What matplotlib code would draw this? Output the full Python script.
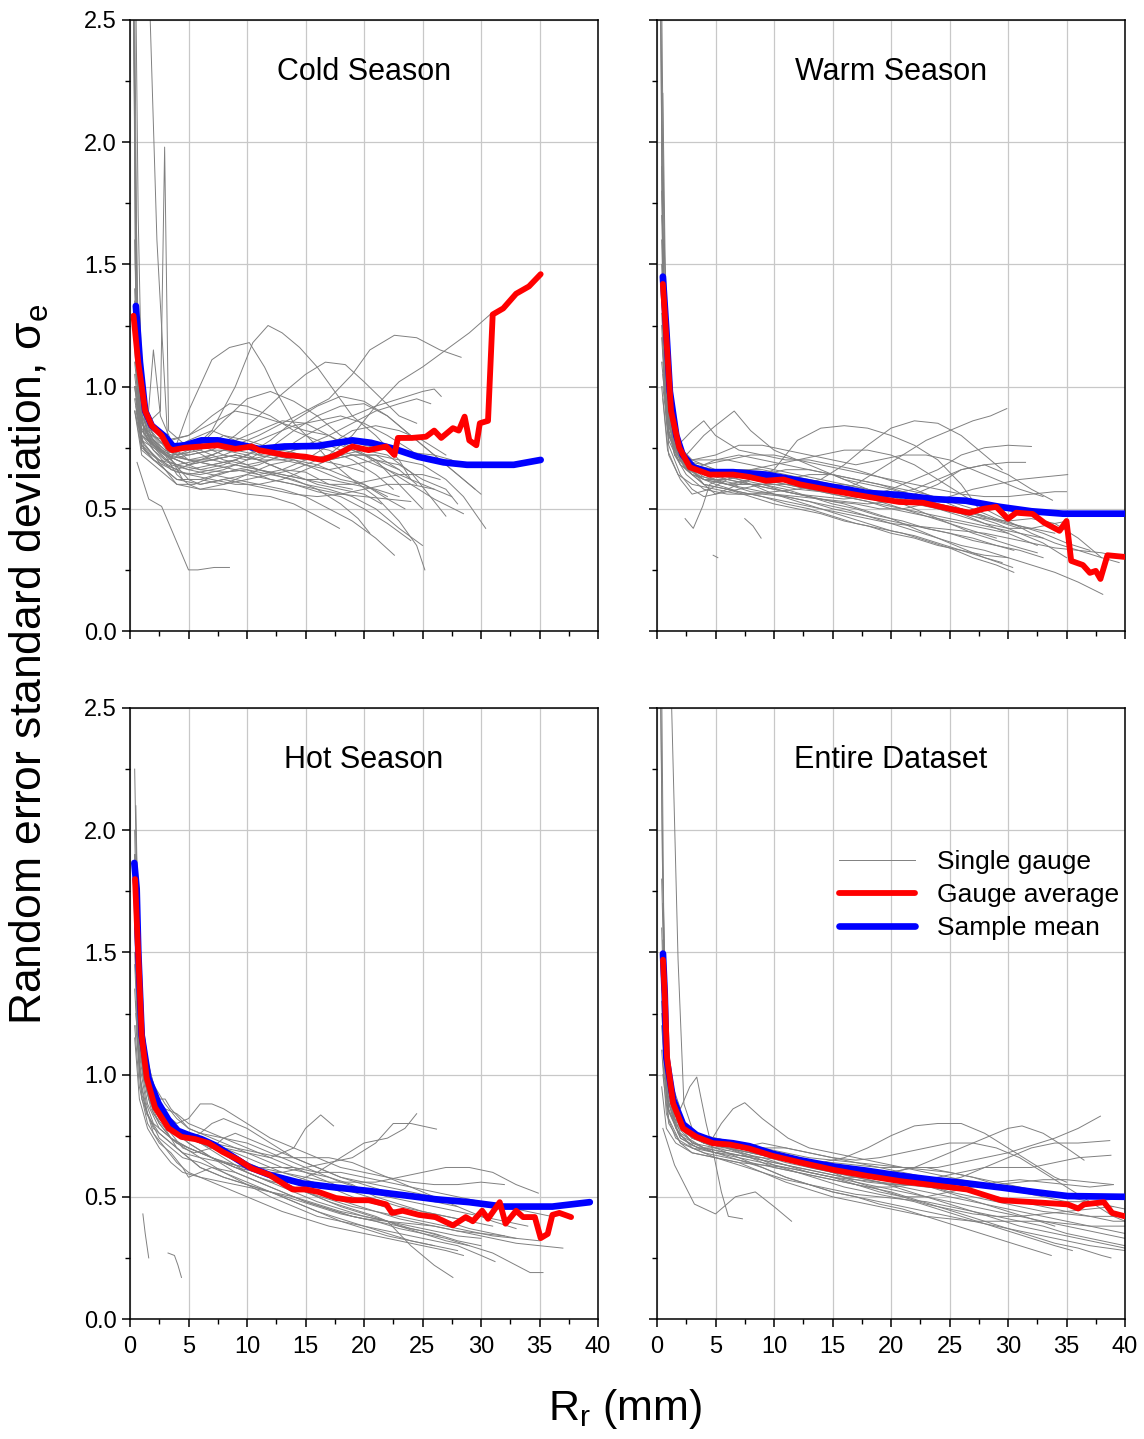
import matplotlib
matplotlib.use('Agg')
import matplotlib.pyplot as plt
from matplotlib.ticker import MultipleLocator, FormatStrFormatter
from matplotlib.lines import Line2D

plt.rcParams['font.family'] = ['Liberation Sans', 'DejaVu Sans']
plt.rcParams['mathtext.fontset'] = 'custom'
plt.rcParams['mathtext.rm'] = 'Liberation Sans'
plt.rcParams['mathtext.it'] = 'Liberation Sans:italic'

# ---------------- Cold Season ----------------
cold_avg_x = [0.3, 0.7, 1.3, 1.86, 2.7, 3.3, 3.6, 4.7, 6.1, 7.5, 9, 10.4, 11, 13.3, 15, 16.4, 17.6, 19,
              20.4, 21.9, 22.6, 22.9, 24.1, 25.3, 26, 26.6, 27.6, 28.1, 28.6, 29, 29.6, 29.9, 30.6, 31,
              31.9, 33, 34.1, 35.1]
cold_avg_y = [1.29, 1.10, 0.90, 0.84, 0.80, 0.75, 0.74, 0.75, 0.755, 0.76, 0.745, 0.755, 0.74, 0.72, 0.713,
              0.70, 0.72, 0.755, 0.74, 0.755, 0.72, 0.79, 0.79, 0.795, 0.82, 0.79, 0.83, 0.82, 0.877, 0.78,
              0.76, 0.85, 0.86, 1.295, 1.32, 1.38, 1.41, 1.46]
cold_mean_x = [0.5, 0.85, 1.3, 1.86, 3, 3.7, 4.7, 6.1, 7.5, 9, 11, 13.2, 16, 19, 20.6, 22.6, 24.6, 26.8,
               28.8, 32.8, 35.1]
cold_mean_y = [1.33, 1.10, 0.90, 0.84, 0.795, 0.755, 0.76, 0.78, 0.78, 0.767, 0.745, 0.755, 0.757, 0.78,
               0.77, 0.745, 0.713, 0.69, 0.68, 0.68, 0.70]
cold_gauges = [
    [(0.3, 2.6), (0.5, 1.6), (0.8, 1.0), (1.5, 0.85), (2.5, 0.8), (4, 0.74), (6, 0.76), (8, 0.72), (10, 0.7),
     (12, 0.72), (14, 0.7), (16, 0.66), (18, 0.62), (20, 0.6), (22, 0.55)],
    [(0.4, 2.6), (0.6, 1.4), (1.0, 0.9), (2, 0.82), (3, 0.78), (5, 0.7), (7, 0.68), (9, 0.7), (11, 0.66),
     (13, 0.63), (15, 0.6), (17, 0.58), (19, 0.55), (21, 0.5), (23, 0.42), (25, 0.35)],
    [(0.5, 2.6), (0.7, 1.7), (1.0, 1.0), (1.8, 0.82), (3, 0.75), (4.5, 0.62), (6, 0.62), (8, 0.65),
     (10, 0.66), (12, 0.62), (14, 0.6), (16, 0.57), (18, 0.55), (20, 0.5), (22, 0.44), (24, 0.37)],
    [(1.6, 2.7), (2.3, 1.6), (3.2, 0.8), (4, 0.72), (6, 0.74), (8, 0.8), (10, 0.78), (12, 0.75), (14, 0.73),
     (16, 0.7), (18, 0.68), (20, 0.65)],
    [(0.5, 1.0), (1.5, 0.85), (2.6, 0.9), (2.96, 1.98), (3.3, 0.82), (5, 0.75), (7, 0.7), (9, 0.72),
     (11, 0.7), (13, 0.66), (15, 0.65), (17, 0.6), (19, 0.58)],
    [(0.4, 1.2), (0.8, 0.95), (1.5, 0.85), (2.0, 1.15), (2.6, 0.88), (3.5, 0.78), (5, 0.8), (7, 0.85),
     (9, 0.9), (11, 0.88), (13, 0.85), (15, 0.82), (17, 0.8), (19, 0.75), (21, 0.7), (23, 0.6), (25, 0.5)],
    [(0.6, 0.69), (1.6, 0.54), (2.7, 0.51), (3.5, 0.42), (5, 0.25), (5.8, 0.25), (7.2, 0.26), (8.5, 0.26)],
    [(0.5, 1.1), (1, 0.85), (2, 0.76), (3.5, 0.72), (5, 0.73), (7, 0.82), (9, 1.0), (10.5, 1.18),
     (11.8, 1.25), (13, 1.22), (14.5, 1.16), (16, 1.08), (17.5, 0.98), (19, 0.88), (21, 0.8), (23, 0.7),
     (24, 0.62)],
    [(0.4, 1.3), (0.8, 0.9), (2, 0.78), (3.5, 0.7), (5, 0.9), (7, 1.11), (8.5, 1.16), (10.2, 1.18),
     (11.5, 1.08), (12.5, 0.98), (14, 0.85), (15.5, 0.78), (17, 0.7), (19, 0.62), (21, 0.55), (23, 0.45),
     (24.5, 0.35), (25.2, 0.25)],
    [(0.5, 0.95), (1.5, 0.78), (3, 0.7), (5, 0.66), (7, 0.68), (9, 0.7), (11, 0.74), (13, 0.72), (15, 0.7),
     (17, 0.72), (19, 0.8), (21, 0.92), (23, 1.02), (25, 1.08), (27, 1.15), (29, 1.22), (30.9, 1.3)],
    [(0.4, 1.0), (1, 0.8), (3, 0.72), (5, 0.7), (7, 0.72), (9, 0.76), (11, 0.8), (13, 0.85), (15, 0.9),
     (17, 0.95), (19, 1.05), (20.5, 1.15), (22.6, 1.21), (24.5, 1.2), (26.5, 1.15), (28.3, 1.12)],
    [(0.5, 1.1), (1.2, 0.82), (3, 0.74), (5, 0.72), (7, 0.74), (9, 0.8), (11, 0.88), (13, 0.97), (15, 1.05),
     (16.7, 1.1), (18.4, 1.09), (20, 1.02), (21.5, 0.95), (23, 0.88), (24.5, 0.85)],
    [(0.4, 0.9), (1, 0.78), (3, 0.72), (5, 0.68), (7, 0.7), (9, 0.72), (11, 0.7), (13, 0.74), (15, 0.8),
     (17, 0.85), (19, 0.88), (21, 0.92), (23, 0.95), (25, 0.98), (26, 0.99), (26.6, 0.96)],
    [(0.5, 1.0), (1, 0.8), (3, 0.72), (5, 0.68), (7, 0.7), (9, 0.72), (11, 0.7), (13, 0.7), (15, 0.72),
     (17, 0.7), (19, 0.72), (21, 0.72), (23, 0.7), (25, 0.68), (27, 0.62), (28.5, 0.55), (30.4, 0.42)],
    [(0.4, 1.1), (1, 0.82), (2.5, 0.74), (4, 0.7), (6, 0.66), (8, 0.65), (10, 0.66), (12, 0.64), (14, 0.66),
     (16, 0.7), (18, 0.72), (20, 0.74), (22, 0.72), (24, 0.65), (25.5, 0.56), (27, 0.47)],
    [(0.5, 0.95), (1, 0.75), (3, 0.68), (5, 0.64), (7, 0.62), (9, 0.6), (11, 0.6), (13, 0.58), (15, 0.55),
     (17, 0.5), (19, 0.45), (21, 0.38), (22.6, 0.31)],
    [(0.4, 0.9), (1, 0.72), (2.5, 0.66), (4, 0.6), (6, 0.58), (8, 0.58), (10, 0.56), (12, 0.55), (14, 0.52),
     (16, 0.47), (17.9, 0.42)],
    [(0.4, 1.4), (0.7, 1.0), (1.5, 0.8), (3, 0.72), (5, 0.78), (7, 0.82), (9, 0.78), (11, 0.72), (13, 0.7),
     (15, 0.68), (17, 0.66), (19, 0.68), (21, 0.7), (23, 0.68), (25, 0.62), (27, 0.58), (28, 0.52)],
    [(0.5, 1.2), (1, 0.85), (2, 0.78), (3.5, 0.7), (5, 0.62), (6, 0.6), (8, 0.62), (10, 0.64), (12, 0.62),
     (14, 0.6), (16, 0.58), (18, 0.56), (20, 0.55), (22, 0.54), (24, 0.53)],
    [(0.4, 1.05), (1, 0.78), (2, 0.72), (3, 0.66), (4, 0.6), (5.5, 0.6), (7, 0.63), (9, 0.66), (11, 0.68),
     (13, 0.72), (15, 0.76), (17, 0.8), (19, 0.85), (21, 0.9), (23, 0.93), (24.5, 0.95), (25.7, 0.93)],
    [(0.3, 2.7), (0.45, 1.5), (0.8, 0.95), (1.8, 0.8), (3, 0.78), (5, 0.8), (7, 0.88), (8.5, 0.93),
     (10, 0.92), (12, 0.88), (14, 0.82), (16, 0.78), (18, 0.74), (20, 0.7), (22, 0.66), (24, 0.62),
     (26, 0.58)],
    [(0.4, 1.0), (1, 0.76), (2.5, 0.7), (4, 0.66), (6, 0.7), (8, 0.74), (10, 0.72), (12, 0.68), (14, 0.64),
     (16, 0.6), (18, 0.58), (20, 0.56), (21.5, 0.52)],
    [(0.5, 0.88), (1, 0.74), (2, 0.7), (4, 0.65), (6, 0.64), (8, 0.66), (10, 0.7), (12, 0.75), (14, 0.82),
     (16, 0.88), (18, 0.92), (20, 0.93), (22, 0.88), (24, 0.8), (26, 0.72), (28, 0.64), (29.5, 0.58)],
    [(0.4, 1.6), (0.6, 1.1), (1.2, 0.8), (2.5, 0.74), (4, 0.68), (6, 0.7), (8, 0.72), (10, 0.76), (12, 0.8),
     (14, 0.84), (16, 0.86), (18, 0.88), (20, 0.85), (22, 0.8), (24, 0.74), (25, 0.7)],
    [(0.5, 0.92), (1.2, 0.74), (2.5, 0.68), (4, 0.62), (6, 0.62), (8, 0.6), (10, 0.62), (12, 0.64),
     (14, 0.62), (16, 0.58), (18, 0.52), (19.5, 0.46), (20.5, 0.4)],
    [(0.3, 2.6), (0.5, 1.8), (0.7, 1.2), (1.2, 0.9), (2, 0.8), (3.5, 0.74), (5, 0.74), (7, 0.76), (9, 0.78),
     (11, 0.82), (13, 0.86), (15, 0.85), (17, 0.8), (19, 0.74), (21, 0.7), (23, 0.66)],
    [(0.4, 1.25), (0.9, 0.86), (2, 0.76), (3.5, 0.68), (5, 0.66), (7, 0.64), (9, 0.62), (11, 0.6), (13, 0.62),
     (15, 0.66), (17, 0.7), (19, 0.72), (21, 0.72), (23, 0.66), (24.5, 0.6)],
    [(0.5, 1.3), (1, 0.88), (2, 0.8), (3, 0.76), (4, 0.72), (6, 0.76), (8, 0.86), (10, 0.95), (12, 0.98),
     (14, 0.94), (16, 0.88), (18, 0.8), (20, 0.76), (22, 0.74), (24, 0.73), (26, 0.72), (27.5, 0.7)],
    [(0.4, 1.15), (0.9, 0.84), (2, 0.74), (3.5, 0.66), (5, 0.64), (7, 0.66), (9, 0.68), (11, 0.66),
     (13, 0.64), (15, 0.62), (17, 0.62), (19, 0.6), (21, 0.58), (23, 0.55)],
    [(0.5, 1.0), (1, 0.8), (2, 0.74), (3, 0.7), (5, 0.72), (7, 0.74), (9, 0.74), (11, 0.72), (13, 0.74),
     (15, 0.76), (17, 0.74), (19, 0.7), (21, 0.64), (22.5, 0.58)],
    [(0.4, 0.95), (1, 0.76), (2, 0.7), (3, 0.66), (4, 0.62), (6, 0.6), (8, 0.62), (10, 0.6), (12, 0.58),
     (14, 0.56), (16, 0.55), (18, 0.56), (20, 0.58), (22, 0.6), (24, 0.6), (26, 0.58), (27.5, 0.55)],
    [(0.3, 2.6), (0.5, 1.4), (0.8, 0.96), (1.5, 0.82), (2.5, 0.77), (4, 0.76), (6, 0.74), (8, 0.7),
     (10, 0.68), (12, 0.7), (14, 0.74), (16, 0.76), (18, 0.76), (20, 0.72), (22, 0.66), (24, 0.6),
     (26, 0.54), (28.5, 0.48)],
    [(0.5, 1.05), (1, 0.82), (2, 0.76), (3.5, 0.72), (5, 0.7), (7, 0.68), (9, 0.66), (11, 0.64), (13, 0.66),
     (15, 0.7), (17, 0.76), (19, 0.82), (21, 0.84), (23, 0.82), (25, 0.78), (27, 0.72)],
    [(0.4, 1.2), (0.8, 0.9), (1.5, 0.8), (3, 0.72), (4, 0.64), (5, 0.6), (6, 0.58), (8, 0.6), (10, 0.64),
     (12, 0.68), (14, 0.7), (16, 0.68), (18, 0.64), (20, 0.6), (22, 0.54), (23.5, 0.5)],
    [(0.5, 0.9), (1.2, 0.76), (2.5, 0.7), (4, 0.68), (6, 0.66), (8, 0.68), (10, 0.72), (12, 0.78),
     (14, 0.86), (16, 0.92), (18, 0.96), (20, 0.94), (22, 0.88), (24, 0.8), (26, 0.72), (28, 0.64),
     (30, 0.56)],
    [(0.4, 1.35), (0.8, 0.92), (1.6, 0.8), (3, 0.74), (5, 0.7), (7, 0.7), (9, 0.68), (11, 0.66), (13, 0.64),
     (15, 0.62), (17, 0.6), (19, 0.6), (21, 0.62), (23, 0.64), (25, 0.64), (26.5, 0.62)],
]

# ---------------- Warm Season ----------------
warm_avg_x = [0.5, 0.8, 1.2, 1.9, 2.8, 4.5, 6.5, 7.9, 9.3, 10.8, 12.2, 15, 17.9, 20.7, 22.7, 25, 26.7, 27.9,
              29, 30, 30.7, 32.1, 33.1, 34.4, 35, 35.4, 36.4, 37, 37.5, 37.9, 38.5, 40]
warm_avg_y = [1.42, 1.2, 0.9, 0.75, 0.67, 0.64, 0.64, 0.63, 0.615, 0.62, 0.6, 0.574, 0.55, 0.528, 0.525,
              0.5, 0.484, 0.5, 0.508, 0.459, 0.484, 0.479, 0.443, 0.41, 0.45, 0.287, 0.27, 0.238, 0.246,
              0.213, 0.31, 0.303]
warm_mean_x = [0.5, 0.8, 1.1, 1.65, 2.2, 3.1, 4.5, 6.5, 9.3, 12.2, 15, 17.9, 20.7, 23.6, 26.4, 29.3, 32,
               34.7, 40]
warm_mean_y = [1.45, 1.23, 0.98, 0.80, 0.72, 0.67, 0.65, 0.65, 0.64, 0.615, 0.59, 0.565, 0.557, 0.54, 0.533,
               0.508, 0.49, 0.48, 0.48]
warm_gauges = [
    [(0.3, 2.6), (0.5, 1.9), (0.8, 1.2), (1.2, 0.9), (2, 0.75), (3, 0.7), (5, 0.66), (7, 0.65), (9, 0.63),
     (11, 0.62), (13, 0.6), (15, 0.58), (17, 0.56), (19, 0.53), (21, 0.5), (23, 0.47), (25, 0.44),
     (27, 0.41), (29, 0.38)],
    [(0.4, 2.6), (0.6, 1.6), (1.0, 1.0), (1.6, 0.8), (2.5, 0.7), (4, 0.64), (6, 0.62), (8, 0.6), (10, 0.58),
     (12, 0.56), (14, 0.54), (16, 0.52), (18, 0.49), (20, 0.46), (22, 0.42), (24, 0.38), (26, 0.34),
     (28, 0.3), (29.5, 0.28)],
    [(0.5, 2.2), (0.7, 1.5), (1.1, 0.95), (2, 0.74), (3, 0.68), (5, 0.64), (7, 0.66), (9, 0.66), (11, 0.64),
     (13, 0.62), (15, 0.6), (17, 0.58), (19, 0.56), (21, 0.54), (23, 0.52), (25, 0.5), (27, 0.47),
     (29, 0.44), (31, 0.4), (33, 0.36), (35, 0.3)],
    [(0.4, 1.8), (0.7, 1.2), (1.2, 0.85), (2, 0.72), (3, 0.66), (4, 0.6), (5, 0.56), (7, 0.58), (9, 0.6),
     (11, 0.58), (13, 0.55), (15, 0.52), (17, 0.5), (19, 0.47), (21, 0.45), (23, 0.42), (25, 0.4),
     (27, 0.37), (29, 0.35), (31, 0.33), (33, 0.3)],
    [(0.5, 1.5), (0.8, 1.0), (1.5, 0.78), (2.5, 0.72), (4, 0.8), (5, 0.84), (6.6, 0.9), (8, 0.82),
     (10, 0.74), (12, 0.7), (14, 0.66), (16, 0.62), (18, 0.6), (20, 0.58), (22, 0.55), (24, 0.52),
     (26, 0.5), (28, 0.47)],
    [(0.4, 1.4), (0.8, 0.92), (1.5, 0.75), (2.5, 0.67), (4, 0.62), (6, 0.6), (8, 0.62), (10, 0.66),
     (12, 0.78), (14, 0.83), (16, 0.84), (18, 0.83), (20, 0.8), (22, 0.76), (24, 0.7), (26, 0.6),
     (27.5, 0.5)],
    [(0.5, 1.2), (1, 0.85), (2, 0.72), (3.5, 0.66), (5, 0.64), (7, 0.63), (9, 0.62), (11, 0.6), (13, 0.58),
     (15, 0.57), (17, 0.6), (19, 0.66), (21, 0.72), (23, 0.78), (25, 0.82), (27, 0.86), (28.5, 0.88),
     (29.9, 0.91)],
    [(0.4, 1.1), (1, 0.8), (2, 0.7), (4, 0.66), (6, 0.64), (8, 0.62), (10, 0.6), (12, 0.6), (14, 0.62),
     (16, 0.68), (18, 0.76), (20, 0.83), (22, 0.86), (24, 0.85), (26, 0.8), (28, 0.72), (29.5, 0.66)],
    [(0.5, 1.3), (1, 0.86), (2, 0.72), (4, 0.66), (6, 0.62), (8, 0.6), (10, 0.58), (12, 0.56), (14, 0.55),
     (16, 0.54), (18, 0.55), (20, 0.58), (22, 0.62), (24, 0.66), (26, 0.72), (28, 0.75), (30, 0.76),
     (32, 0.755)],
    [(0.4, 1.6), (0.7, 1.05), (1.5, 0.76), (3, 0.68), (5, 0.64), (7, 0.62), (9, 0.6), (11, 0.57),
     (13, 0.55), (15, 0.53), (17, 0.52), (19, 0.5), (21, 0.5), (23, 0.52), (25, 0.55), (27, 0.58),
     (29, 0.6), (31, 0.62), (33, 0.63), (35.1, 0.64)],
    [(0.5, 1.1), (1, 0.82), (2, 0.7), (4, 0.64), (6, 0.6), (8, 0.57), (10, 0.56), (12, 0.55), (14, 0.54),
     (16, 0.53), (18, 0.52), (20, 0.53), (22, 0.56), (24, 0.6), (26, 0.66), (28, 0.68), (30, 0.64),
     (32, 0.58), (33.8, 0.535)],
    [(0.4, 1.3), (0.9, 0.85), (2, 0.7), (4, 0.63), (6, 0.6), (8, 0.58), (10, 0.56), (12, 0.54), (14, 0.52),
     (16, 0.5), (18, 0.47), (20, 0.44), (22, 0.41), (24, 0.38), (26, 0.35), (28, 0.33), (30, 0.3),
     (32, 0.27), (34, 0.24), (36, 0.2), (38.1, 0.15)],
    [(0.5, 1.0), (1, 0.78), (2, 0.68), (4, 0.6), (6, 0.58), (8, 0.56), (10, 0.54), (12, 0.52), (14, 0.5),
     (16, 0.47), (18, 0.44), (20, 0.41), (22, 0.39), (24, 0.36), (26, 0.33), (28, 0.3), (30.4, 0.26)],
    [(2.4, 0.46), (3.1, 0.42), (3.9, 0.51), (4.5, 0.6), (5.5, 0.62)],
    [(7.5, 0.46), (8.2, 0.43), (8.9, 0.38)],
    [(4.8, 0.31), (5.2, 0.3)],
    [(0.4, 2.0), (0.6, 1.3), (1.0, 0.9), (1.8, 0.76), (3, 0.82), (4, 0.86), (5, 0.8), (7, 0.74), (9, 0.72),
     (11, 0.7), (13, 0.7), (15, 0.68), (17, 0.66), (19, 0.63), (21, 0.6), (23, 0.56), (25, 0.52),
     (27, 0.48), (29, 0.45), (31, 0.42)],
    [(0.5, 1.05), (1, 0.76), (2, 0.64), (3, 0.58), (4, 0.55), (5, 0.56), (7, 0.6), (9, 0.64), (11, 0.66),
     (13, 0.66), (15, 0.64), (17, 0.6), (19, 0.56), (21, 0.52), (23, 0.48), (25, 0.44), (27, 0.4),
     (29, 0.37), (31, 0.34), (32.5, 0.32)],
    [(0.4, 1.2), (0.9, 0.82), (2, 0.7), (4, 0.68), (6, 0.7), (8, 0.72), (10, 0.72), (12, 0.7), (14, 0.68),
     (16, 0.66), (18, 0.64), (20, 0.62), (22, 0.6), (24, 0.58), (26, 0.56), (28, 0.55), (30, 0.55),
     (32, 0.56), (34, 0.57), (35, 0.57)],
    [(0.5, 0.95), (1, 0.72), (2, 0.62), (3, 0.56), (4.5, 0.58), (6, 0.62), (8, 0.66), (10, 0.68), (12, 0.7),
     (14, 0.72), (16, 0.74), (18, 0.74), (20, 0.72), (22, 0.68), (24, 0.62), (26, 0.56), (28, 0.5),
     (30, 0.45), (32, 0.4), (34, 0.36), (36, 0.33), (38, 0.32), (40, 0.3)],
    [(0.3, 2.6), (0.45, 1.7), (0.7, 1.1), (1.2, 0.82), (2, 0.7), (3, 0.64), (5, 0.6), (7, 0.57), (9, 0.55),
     (11, 0.52), (13, 0.5), (15, 0.47), (17, 0.44), (19, 0.42), (21, 0.4), (23, 0.37), (25, 0.34),
     (27, 0.3), (29, 0.27), (30.5, 0.24)],
    [(0.4, 1.5), (0.8, 0.95), (1.5, 0.72), (2.5, 0.64), (4, 0.58), (6, 0.56), (8, 0.56), (10, 0.57),
     (12, 0.58), (14, 0.6), (16, 0.6), (18, 0.58), (20, 0.55), (22, 0.52), (24, 0.5), (26, 0.47),
     (28, 0.44), (30, 0.42), (32, 0.42), (34, 0.44), (35.1, 0.45)],
    [(0.5, 1.4), (0.9, 0.9), (1.6, 0.74), (3, 0.7), (5, 0.72), (7, 0.76), (9, 0.76), (11, 0.74), (13, 0.72),
     (15, 0.7), (17, 0.68), (19, 0.7), (21, 0.72), (23, 0.72), (25, 0.7), (27, 0.66), (29, 0.62),
     (31, 0.58), (33, 0.55)],
    [(0.4, 1.7), (0.7, 1.1), (1.3, 0.8), (2.5, 0.7), (4, 0.66), (6, 0.64), (8, 0.6), (10, 0.56), (12, 0.53),
     (14, 0.5), (16, 0.48), (18, 0.46), (20, 0.44), (22, 0.43), (24, 0.42), (26, 0.41), (28, 0.4),
     (30, 0.38), (32, 0.36), (34, 0.34), (36, 0.33), (38, 0.3), (39.5, 0.28)],
    [(0.5, 1.15), (1, 0.8), (2, 0.68), (4, 0.62), (6, 0.62), (8, 0.64), (10, 0.64), (12, 0.62), (14, 0.6),
     (16, 0.58), (18, 0.56), (20, 0.56), (22, 0.58), (24, 0.62), (26, 0.66), (28, 0.68), (30, 0.69),
     (31.5, 0.69)],
    [(0.4, 1.9), (0.7, 1.2), (1.2, 0.85), (2, 0.72), (3, 0.68), (5, 0.66), (7, 0.64), (9, 0.62), (11, 0.6),
     (13, 0.58), (15, 0.56), (17, 0.54), (19, 0.52), (21, 0.5), (23, 0.48), (25, 0.46), (27, 0.44),
     (29, 0.42), (31, 0.4), (33, 0.38)],
    [(0.5, 1.3), (0.9, 0.88), (1.6, 0.74), (2.5, 0.68), (4, 0.62), (6, 0.6), (8, 0.6), (10, 0.6), (12, 0.58),
     (14, 0.57), (16, 0.55), (18, 0.53), (20, 0.5), (22, 0.48), (24, 0.46), (26, 0.44), (28, 0.42),
     (30, 0.4)],
    [(0.4, 1.45), (0.8, 0.95), (1.4, 0.76), (2.5, 0.7), (4, 0.7), (6, 0.7), (8, 0.68), (10, 0.66),
     (12, 0.64), (14, 0.62), (16, 0.6), (18, 0.58), (20, 0.56), (22, 0.54), (24, 0.52), (26, 0.5),
     (28, 0.47), (30, 0.44), (32, 0.42), (34, 0.4)],
    [(0.3, 2.6), (0.5, 1.5), (0.9, 0.9), (1.5, 0.74), (2.5, 0.66), (4, 0.6), (6, 0.58), (8, 0.55),
     (10, 0.52), (12, 0.5), (14, 0.48), (16, 0.45), (18, 0.43), (20, 0.4), (22, 0.38), (24, 0.35),
     (26, 0.33), (28, 0.31), (30, 0.3)],
    [(0.5, 1.2), (1, 0.84), (2, 0.7), (3, 0.66), (5, 0.7), (7, 0.72), (9, 0.7), (11, 0.68), (13, 0.66),
     (15, 0.64), (17, 0.62), (19, 0.6), (21, 0.58), (23, 0.56), (25, 0.53), (27, 0.5), (29, 0.46),
     (31, 0.43), (33, 0.4), (35, 0.36), (37, 0.33)],
    [(0.4, 1.0), (0.9, 0.74), (1.8, 0.64), (3, 0.6), (5, 0.58), (7, 0.56), (9, 0.56), (11, 0.55), (13, 0.53),
     (15, 0.5), (17, 0.48), (19, 0.46), (21, 0.44), (23, 0.42), (25, 0.4), (27, 0.38), (29, 0.35),
     (30.5, 0.33)],
    [(0.5, 1.6), (0.8, 1.1), (1.4, 0.8), (2.5, 0.7), (4, 0.66), (6, 0.64), (8, 0.64), (10, 0.62),
     (12, 0.6), (14, 0.58), (16, 0.56), (18, 0.55), (20, 0.54), (22, 0.53), (24, 0.5), (26, 0.48),
     (28, 0.46), (30, 0.45), (32, 0.46), (34, 0.44), (36, 0.38), (38, 0.3)],
    [(0.4, 1.25), (0.8, 0.86), (1.5, 0.72), (3, 0.64), (5, 0.62), (7, 0.6), (9, 0.6), (11, 0.62),
     (13, 0.64), (15, 0.64), (17, 0.62), (19, 0.6), (21, 0.57), (23, 0.54), (25, 0.5), (27, 0.46),
     (29, 0.42), (31, 0.38), (32.5, 0.35)],
]

# ---------------- Hot Season ----------------
hot_avg_x = [0.43, 0.57, 0.77, 1.0, 1.43, 2.14, 3.3, 4.4, 5.57, 6.7, 7.9, 9.3, 10.4, 11.9, 13.3, 13.9, 15,
             16.1, 17.6, 19, 20.4, 21.9, 22.4, 23.3, 24.7, 26.1, 27.6, 28.7, 29.3, 30.1, 30.6, 31.6, 32.1,
             33, 33.6, 34.6, 35.1, 35.7, 36.1, 36.7, 37.7]
hot_avg_y = [1.80, 1.64, 1.42, 1.16, 0.986, 0.866, 0.78, 0.745, 0.736, 0.72, 0.684, 0.65, 0.616, 0.59, 0.547,
             0.53, 0.53, 0.52, 0.495, 0.486, 0.486, 0.469, 0.434, 0.443, 0.426, 0.417, 0.383, 0.417, 0.40,
             0.443, 0.41, 0.478, 0.39, 0.443, 0.417, 0.417, 0.331, 0.348, 0.426, 0.434, 0.417]
hot_mean_x = [0.37, 0.57, 0.71, 1.0, 1.57, 2.43, 3.3, 4.1, 5, 6.1, 7.3, 8.7, 10.1, 11.9, 14.7, 17.6, 20.4,
              23.3, 26.1, 29, 31.9, 36.1, 39.3]
hot_mean_y = [1.866, 1.76, 1.50, 1.16, 0.986, 0.883, 0.814, 0.77, 0.753, 0.736, 0.71, 0.667, 0.624, 0.59,
              0.555, 0.538, 0.524, 0.507, 0.49, 0.478, 0.46, 0.46, 0.478]
hot_gauges = [
    [(0.4, 2.25), (0.6, 1.7), (0.9, 1.3), (1.5, 1.05), (2.5, 0.88), (3.5, 0.8), (5, 0.74), (7, 0.7),
     (9, 0.65), (11, 0.6), (13, 0.56), (15, 0.52), (17, 0.48), (19, 0.45), (21, 0.42), (23, 0.38),
     (25, 0.35), (27, 0.32), (29, 0.3)],
    [(0.5, 2.1), (0.7, 1.6), (1, 1.25), (1.6, 1.0), (2.5, 0.86), (4, 0.78), (6, 0.74), (8, 0.7), (10, 0.64),
     (12, 0.58), (14, 0.54), (16, 0.5), (18, 0.46), (20, 0.43), (22, 0.4), (24, 0.3), (26, 0.22),
     (27.6, 0.17)],
    [(0.4, 1.9), (0.7, 1.45), (1, 1.15), (1.5, 0.95), (2, 0.84), (3, 0.78), (4, 0.7), (5, 0.66), (6, 0.62),
     (8, 0.58), (10, 0.55), (12, 0.52), (14, 0.48), (16, 0.44), (18, 0.4), (20, 0.37), (22, 0.34),
     (24, 0.32), (26, 0.3), (28, 0.28)],
    [(0.5, 1.8), (0.8, 1.35), (1.2, 1.05), (2, 0.9), (3, 0.9), (3.5, 0.86), (5, 0.78), (7, 0.74), (9, 0.7),
     (11, 0.66), (13, 0.62), (15, 0.6), (17, 0.58), (19, 0.55), (21, 0.5), (23, 0.47), (25, 0.44),
     (27, 0.42), (29, 0.4), (31, 0.38)],
    [(0.4, 1.7), (0.8, 1.2), (1.5, 0.95), (2.5, 0.84), (4, 0.78), (6, 0.72), (8, 0.66), (10, 0.6),
     (12, 0.56), (14, 0.56), (16, 0.6), (18, 0.66), (20, 0.72), (22, 0.74), (23.5, 0.78), (24.5, 0.84)],
    [(0.5, 1.6), (1, 1.1), (2, 0.88), (4, 0.76), (6, 0.72), (8, 0.7), (10, 0.68), (12, 0.66), (14, 0.7),
     (15, 0.78), (16.3, 0.835), (17.4, 0.79)],
    [(0.4, 1.5), (0.8, 1.1), (1.5, 0.92), (3, 0.8), (5, 0.72), (7, 0.66), (9, 0.62), (11, 0.6), (13, 0.6),
     (15, 0.62), (17, 0.64), (19, 0.66), (21, 0.72), (22.5, 0.8), (24, 0.8), (26.2, 0.777)],
    [(0.5, 1.75), (0.9, 1.2), (1.8, 0.92), (3, 0.8), (5, 0.74), (7, 0.7), (9, 0.66), (11, 0.62), (13, 0.6),
     (15, 0.58), (17, 0.56), (19, 0.56), (21, 0.56), (23, 0.58), (25, 0.6), (27, 0.62), (29, 0.62),
     (31, 0.6), (33, 0.55), (34.9, 0.515)],
    [(0.4, 1.6), (0.8, 1.15), (1.5, 0.92), (3, 0.8), (5, 0.72), (7, 0.66), (9, 0.6), (11, 0.56), (13, 0.52),
     (15, 0.48), (17, 0.45), (19, 0.42), (21, 0.4), (23, 0.37), (25, 0.35), (27, 0.33), (29, 0.3),
     (31, 0.27), (33, 0.22), (34.2, 0.19), (35.3, 0.19)],
    [(0.5, 1.4), (0.9, 1.05), (1.5, 0.88), (2.5, 0.78), (4, 0.72), (6, 0.66), (8, 0.6), (10, 0.55),
     (12, 0.5), (14, 0.46), (16, 0.42), (18, 0.4), (20, 0.38), (22, 0.36), (24, 0.34), (26, 0.32),
     (28, 0.3), (30, 0.26), (31.2, 0.235)],
    [(1.1, 0.43), (1.3, 0.35), (1.6, 0.25)],
    [(3.25, 0.27), (3.8, 0.26), (4.1, 0.22), (4.4, 0.17)],
    [(0.4, 2.0), (0.6, 1.5), (1, 1.1), (1.6, 0.92), (2.5, 0.82), (3.5, 0.76), (4.5, 0.7), (5.5, 0.68),
     (7, 0.7), (8, 0.74), (9, 0.76), (10, 0.74), (12, 0.7), (14, 0.66), (16, 0.62), (18, 0.58), (20, 0.56),
     (22, 0.54), (24, 0.52), (26, 0.5), (28, 0.48), (30, 0.47), (32, 0.46)],
    [(0.5, 1.3), (0.9, 0.98), (1.5, 0.84), (2.5, 0.74), (3.5, 0.7), (4.5, 0.66), (6, 0.64), (8, 0.6),
     (10, 0.56), (12, 0.52), (14, 0.49), (16, 0.46), (18, 0.43), (20, 0.41), (22, 0.4), (24, 0.39),
     (26, 0.38), (28, 0.36), (30, 0.35), (32, 0.34)],
    [(0.4, 1.2), (0.8, 0.95), (1.5, 0.8), (2.5, 0.72), (3.5, 0.68), (4.5, 0.62), (5, 0.58), (6, 0.6),
     (7, 0.62), (9, 0.6), (11, 0.56), (13, 0.52), (15, 0.48), (17, 0.45), (19, 0.42), (21, 0.4),
     (23, 0.38), (25, 0.36), (26.5, 0.34)],
    [(0.5, 1.9), (0.8, 1.4), (1.2, 1.1), (2, 0.92), (3, 0.84), (4, 0.8), (5, 0.82), (6, 0.88), (7, 0.88),
     (8, 0.86), (10, 0.8), (12, 0.74), (14, 0.7), (16, 0.66), (18, 0.62), (20, 0.6), (22, 0.58), (24, 0.56),
     (26, 0.55), (28, 0.55), (30, 0.56), (32, 0.55)],
    [(0.4, 1.65), (0.7, 1.25), (1.2, 0.98), (2, 0.86), (3, 0.8), (4, 0.76), (5, 0.74), (7, 0.72), (9, 0.7),
     (11, 0.68), (13, 0.66), (15, 0.66), (17, 0.66), (19, 0.64), (21, 0.6), (23, 0.56), (25, 0.52),
     (27, 0.48), (29, 0.44), (31, 0.4), (33, 0.37)],
    [(0.5, 1.25), (1, 0.92), (2, 0.76), (3, 0.7), (4, 0.64), (5, 0.6), (7, 0.56), (9, 0.52), (11, 0.48),
     (13, 0.44), (15, 0.41), (17, 0.38), (19, 0.36), (21, 0.34), (23, 0.32), (25, 0.3), (27, 0.28),
     (28.5, 0.26)],
    [(0.4, 1.45), (0.8, 1.05), (1.4, 0.88), (2, 0.8), (3, 0.76), (4, 0.72), (6, 0.68), (8, 0.64),
     (10, 0.62), (12, 0.62), (14, 0.62), (16, 0.6), (18, 0.6), (20, 0.58), (22, 0.56), (24, 0.54),
     (26, 0.52), (28, 0.5), (30, 0.48), (32, 0.46), (34, 0.44), (36, 0.42)],
    [(0.5, 1.55), (0.9, 1.1), (1.6, 0.9), (2.5, 0.8), (3.5, 0.74), (5, 0.7), (7, 0.66), (9, 0.63),
     (11, 0.6), (13, 0.57), (15, 0.54), (17, 0.5), (19, 0.47), (21, 0.44), (23, 0.41), (25, 0.39),
     (27, 0.37), (29, 0.35), (31, 0.33), (33, 0.31), (35, 0.3), (37, 0.29)],
    [(0.4, 1.8), (0.7, 1.3), (1.1, 1.0), (1.8, 0.86), (2.5, 0.8), (3.5, 0.74), (5, 0.7), (7, 0.66),
     (9, 0.62), (11, 0.58), (13, 0.55), (15, 0.52), (17, 0.49), (19, 0.46), (21, 0.44), (23, 0.42),
     (25, 0.4), (27, 0.38), (29, 0.36), (31, 0.34), (33, 0.33)],
    [(0.5, 1.7), (0.8, 1.25), (1.3, 1.0), (2, 0.9), (3, 0.86), (4, 0.84), (5, 0.8), (7, 0.76), (9, 0.72),
     (11, 0.68), (13, 0.64), (15, 0.6), (17, 0.56), (19, 0.52), (21, 0.49), (23, 0.46), (25, 0.44),
     (27, 0.42), (29, 0.4)],
    [(0.4, 1.35), (0.8, 1.0), (1.4, 0.84), (2.5, 0.76), (3.5, 0.72), (4.5, 0.68), (6, 0.66), (8, 0.64),
     (10, 0.6), (12, 0.56), (14, 0.52), (16, 0.48), (18, 0.45), (20, 0.42), (22, 0.4), (24, 0.37),
     (26, 0.35), (28, 0.32), (30, 0.3)],
    [(0.5, 2.0), (0.8, 1.45), (1.2, 1.12), (2, 0.96), (3, 0.88), (4, 0.82), (5, 0.78), (6, 0.76), (8, 0.74),
     (10, 0.72), (12, 0.68), (14, 0.64), (16, 0.6), (18, 0.56), (20, 0.53), (22, 0.5), (24, 0.48),
     (26, 0.46), (28, 0.44), (30, 0.42), (32, 0.4), (34, 0.38)],
    [(0.4, 1.15), (0.8, 0.9), (1.5, 0.78), (2.5, 0.7), (3.5, 0.64), (4.5, 0.6), (6, 0.58), (8, 0.56),
     (10, 0.54), (12, 0.52), (14, 0.5), (16, 0.47), (18, 0.44), (20, 0.42), (22, 0.4), (24, 0.38),
     (26, 0.36), (28, 0.34), (30, 0.33)],
    [(0.5, 1.5), (0.9, 1.08), (1.6, 0.9), (2.5, 0.82), (4, 0.76), (5, 0.74), (6, 0.76), (7, 0.8), (8, 0.82),
     (10, 0.78), (12, 0.72), (14, 0.66), (16, 0.62), (18, 0.58), (20, 0.55), (22, 0.52), (24, 0.5),
     (26, 0.48), (28, 0.46)],
    [(0.4, 1.9), (0.7, 1.35), (1.1, 1.05), (1.8, 0.92), (3, 0.84), (4, 0.78), (5.5, 0.74), (7, 0.72),
     (9, 0.68), (11, 0.64), (13, 0.6), (15, 0.57), (17, 0.54), (19, 0.5), (21, 0.47), (23, 0.44),
     (25, 0.42), (27, 0.4), (29, 0.37), (31, 0.35), (33, 0.33), (35, 0.32)],
    [(0.5, 1.2), (1, 0.9), (2, 0.78), (3, 0.74), (4, 0.7), (5, 0.66), (6, 0.62), (8, 0.58), (10, 0.55),
     (12, 0.52), (14, 0.48), (16, 0.44), (18, 0.41), (20, 0.38), (22, 0.35), (24, 0.32), (26, 0.3)],
]

# ---------------- Entire Dataset ----------------
all_avg_x = [0.51, 0.66, 0.86, 1.37, 2.23, 3.37, 4.8, 6.2, 7.9, 9.9, 12.2, 15.1, 17.9, 20.8, 23.7, 26.5,
             29.4, 32.2, 35.1, 36, 36.5, 38.2, 38.9, 40]
all_avg_y = [1.47, 1.33, 1.07, 0.883, 0.78, 0.745, 0.719, 0.714, 0.697, 0.667, 0.641, 0.61, 0.586, 0.564,
             0.547, 0.53, 0.486, 0.478, 0.469, 0.452, 0.469, 0.478, 0.434, 0.42]
all_mean_x = [0.51, 0.66, 0.8, 1.37, 2.23, 3.37, 4.8, 6.5, 7.9, 9.9, 12.2, 15.1, 17.9, 20.8, 23.7, 26.5,
              29.4, 32.2, 35.1, 40]
all_mean_y = [1.495, 1.33, 1.07, 0.90, 0.797, 0.753, 0.728, 0.719, 0.707, 0.676, 0.65, 0.624, 0.607, 0.586,
              0.569, 0.555, 0.538, 0.52, 0.503, 0.50]
all_gauges = [
    [(0.3, 2.6), (0.5, 1.8), (0.8, 1.2), (1.2, 0.92), (2, 0.8), (3, 0.74), (5, 0.71), (7, 0.7), (9, 0.67),
     (11, 0.64), (13, 0.62), (15, 0.6), (17, 0.58), (19, 0.56), (21, 0.54), (23, 0.52), (25, 0.5),
     (27, 0.48), (29, 0.46), (31, 0.44), (33, 0.42), (35, 0.4), (37, 0.38), (39, 0.36), (40, 0.35)],
    [(0.4, 2.6), (0.6, 1.5), (1, 1.0), (1.6, 0.84), (2.5, 0.76), (4, 0.72), (6, 0.7), (8, 0.66), (10, 0.62),
     (12, 0.6), (14, 0.58), (16, 0.56), (18, 0.54), (20, 0.52), (22, 0.49), (24, 0.46), (26, 0.43),
     (28, 0.4), (30, 0.37), (32, 0.34), (34, 0.31), (36, 0.29), (38, 0.26), (38.8, 0.25)],
    [(1.2, 2.6), (1.8, 1.47), (2.3, 0.88), (3, 0.78), (4, 0.74), (6, 0.72), (8, 0.7), (10, 0.68), (12, 0.66),
     (14, 0.64), (16, 0.62), (18, 0.6), (20, 0.58), (22, 0.56), (24, 0.53), (26, 0.5), (28, 0.47),
     (30, 0.44), (32, 0.41), (34, 0.38)],
    [(0.5, 1.3), (1, 1.0), (2, 0.86), (2.8, 0.95), (3.4, 0.99), (4.2, 0.8), (4.9, 0.66), (5.5, 0.52),
     (6.1, 0.42), (7.3, 0.41)],
    [(0.5, 0.78), (1.5, 0.63), (3.2, 0.47), (5, 0.43), (6.7, 0.5), (8.4, 0.52), (10, 0.46), (11.5, 0.4)],
    [(0.4, 1.4), (0.8, 1.0), (1.5, 0.84), (3, 0.76), (4.5, 0.72), (5.5, 0.8), (6.5, 0.86), (7.5, 0.885),
     (9, 0.82), (11.2, 0.74), (13, 0.7), (15, 0.68), (17, 0.66), (19, 0.64), (21, 0.62), (23, 0.6),
     (25, 0.58), (27, 0.56), (29, 0.54), (31, 0.52)],
    [(0.5, 1.2), (1, 0.9), (2, 0.78), (4, 0.72), (6, 0.7), (8, 0.68), (10, 0.66), (12, 0.64), (14, 0.62),
     (16, 0.6), (18, 0.6), (20, 0.6), (22, 0.62), (24, 0.62), (26, 0.64), (28, 0.66), (30, 0.68),
     (32, 0.71), (34, 0.74), (36, 0.78), (37.9, 0.83)],
    [(0.4, 1.6), (0.7, 1.1), (1.3, 0.86), (2.5, 0.76), (4, 0.72), (6, 0.7), (8, 0.68), (10, 0.66),
     (12, 0.64), (14, 0.64), (16, 0.66), (18, 0.7), (20, 0.75), (22, 0.79), (24, 0.8), (26, 0.8),
     (28, 0.76), (30, 0.7), (32, 0.64), (34, 0.58), (35, 0.56)],
    [(0.5, 1.1), (1, 0.85), (2, 0.75), (4, 0.7), (6, 0.68), (8, 0.66), (10, 0.64), (12, 0.62), (14, 0.6),
     (16, 0.58), (18, 0.56), (20, 0.55), (22, 0.55), (24, 0.56), (26, 0.58), (28, 0.62), (30, 0.66),
     (32, 0.7), (34, 0.72), (36, 0.72), (38.7, 0.73)],
    [(0.4, 1.25), (0.9, 0.9), (2, 0.76), (4, 0.7), (6, 0.68), (8, 0.66), (10, 0.64), (12, 0.62), (14, 0.6),
     (16, 0.58), (18, 0.58), (20, 0.6), (22, 0.62), (24, 0.66), (26, 0.7), (28, 0.74), (30, 0.78),
     (31.2, 0.79), (33, 0.76), (35, 0.7), (36.5, 0.65)],
    [(0.5, 1.0), (1, 0.8), (2, 0.72), (4, 0.68), (6, 0.66), (8, 0.64), (10, 0.62), (12, 0.6), (14, 0.58),
     (16, 0.56), (18, 0.54), (20, 0.54), (22, 0.55), (24, 0.58), (26, 0.6), (28, 0.62), (30, 0.62),
     (32, 0.62), (34, 0.64), (36, 0.66), (38.8, 0.67)],
    [(0.4, 1.5), (0.8, 1.0), (1.5, 0.82), (3, 0.74), (5, 0.7), (7, 0.66), (9, 0.62), (11, 0.58), (13, 0.55),
     (15, 0.52), (17, 0.5), (19, 0.48), (21, 0.46), (23, 0.44), (25, 0.42), (27, 0.4), (29, 0.38),
     (31, 0.36), (33, 0.34), (35, 0.32), (37, 0.3), (40, 0.28)],
    [(0.5, 1.35), (0.9, 0.95), (1.8, 0.8), (3, 0.72), (5, 0.68), (7, 0.65), (9, 0.62), (11, 0.58),
     (13, 0.55), (15, 0.52), (17, 0.5), (19, 0.47), (21, 0.45), (23, 0.42), (25, 0.39), (27, 0.36),
     (29, 0.33), (31, 0.3), (33.7, 0.26)],
    [(0.3, 2.6), (0.45, 1.9), (0.7, 1.3), (1.1, 0.95), (2, 0.8), (3, 0.76), (5, 0.74), (7, 0.72), (9, 0.7),
     (11, 0.68), (13, 0.66), (15, 0.65), (17, 0.64), (19, 0.63), (21, 0.62), (23, 0.61), (25, 0.6),
     (27, 0.58), (29, 0.56), (31, 0.54), (33, 0.52), (35, 0.5), (37, 0.48), (39, 0.46), (40, 0.45)],
    [(0.5, 1.05), (1, 0.82), (2, 0.72), (3, 0.68), (5, 0.66), (7, 0.64), (9, 0.6), (11, 0.56), (13, 0.53),
     (15, 0.5), (17, 0.48), (19, 0.46), (21, 0.44), (23, 0.42), (25, 0.41), (27, 0.4), (29, 0.4),
     (31, 0.4), (33, 0.4), (35, 0.39), (37, 0.38), (40, 0.38)],
    [(0.4, 1.8), (0.7, 1.2), (1.2, 0.9), (2, 0.8), (3, 0.76), (5, 0.74), (7, 0.72), (9, 0.7), (11, 0.67),
     (13, 0.64), (15, 0.6), (17, 0.56), (19, 0.53), (21, 0.5), (23, 0.47), (25, 0.45), (27, 0.43),
     (29, 0.42), (31, 0.42), (33, 0.43), (35, 0.44), (37, 0.45), (39, 0.46)],
    [(0.5, 1.15), (1, 0.86), (2, 0.74), (3.5, 0.7), (5, 0.68), (7, 0.7), (9, 0.72), (11, 0.7), (13, 0.68),
     (15, 0.66), (17, 0.65), (19, 0.66), (21, 0.68), (23, 0.7), (25, 0.72), (27, 0.72), (29, 0.7),
     (31, 0.66), (33, 0.6), (35, 0.54), (37, 0.48), (39, 0.42), (40, 0.4)],
    [(0.4, 1.3), (0.8, 0.92), (1.6, 0.78), (3, 0.7), (5, 0.66), (7, 0.63), (9, 0.6), (11, 0.57), (13, 0.55),
     (15, 0.53), (17, 0.51), (19, 0.5), (21, 0.49), (23, 0.48), (25, 0.46), (27, 0.44), (29, 0.42),
     (31, 0.4), (33, 0.38), (35, 0.35), (37, 0.33), (39, 0.31), (40, 0.3)],
    [(0.4, 1.5), (0.8, 0.98), (1.5, 0.8), (3, 0.72), (5, 0.7), (7, 0.68), (9, 0.66), (11, 0.63), (13, 0.6),
     (15, 0.58), (17, 0.56), (19, 0.54), (21, 0.52), (23, 0.5), (25, 0.48), (27, 0.46), (29, 0.44),
     (31, 0.42), (33, 0.4), (35, 0.38), (37, 0.36), (39, 0.34), (40, 0.33)],
    [(0.5, 1.25), (0.9, 0.9), (1.8, 0.76), (3, 0.71), (5, 0.68), (7, 0.66), (9, 0.64), (11, 0.62), (13, 0.6),
     (15, 0.58), (17, 0.57), (19, 0.56), (21, 0.55), (23, 0.54), (25, 0.53), (27, 0.52), (29, 0.5),
     (31, 0.48), (33, 0.46), (35, 0.44), (37, 0.42), (39, 0.4), (40, 0.4)],
    [(0.4, 1.1), (0.8, 0.84), (1.6, 0.74), (3, 0.7), (5, 0.68), (7, 0.67), (9, 0.66), (11, 0.65), (13, 0.64),
     (15, 0.64), (17, 0.63), (19, 0.62), (21, 0.62), (23, 0.62), (25, 0.6), (27, 0.58), (29, 0.55),
     (31, 0.52), (33, 0.5), (35, 0.48), (37, 0.48), (39, 0.49), (40, 0.5)],
    [(0.5, 1.7), (0.8, 1.1), (1.4, 0.85), (2.5, 0.76), (4, 0.72), (6, 0.7), (8, 0.67), (10, 0.63), (12, 0.6),
     (14, 0.57), (16, 0.54), (18, 0.52), (20, 0.5), (22, 0.48), (24, 0.45), (26, 0.42), (28, 0.39),
     (30, 0.36), (32, 0.33), (34, 0.3), (35.5, 0.28)],
    [(0.4, 1.2), (0.9, 0.86), (2, 0.74), (3.5, 0.7), (5, 0.7), (7, 0.7), (9, 0.7), (11, 0.7), (13, 0.68),
     (15, 0.66), (17, 0.64), (19, 0.62), (21, 0.6), (23, 0.58), (25, 0.56), (27, 0.55), (29, 0.55),
     (31, 0.56), (33, 0.57), (35, 0.57), (37, 0.56), (39, 0.55)],
    [(0.5, 1.4), (0.9, 0.96), (1.6, 0.8), (3, 0.74), (5, 0.72), (7, 0.7), (9, 0.68), (11, 0.66), (13, 0.63),
     (15, 0.6), (17, 0.58), (19, 0.56), (21, 0.53), (23, 0.5), (25, 0.47), (27, 0.44), (29, 0.41),
     (31, 0.38), (33, 0.36), (35, 0.34), (37, 0.32), (39, 0.3), (40, 0.29)],
    [(0.4, 0.95), (0.8, 0.78), (1.6, 0.72), (3, 0.68), (5, 0.66), (7, 0.64), (9, 0.63), (11, 0.62),
     (13, 0.6), (15, 0.58), (17, 0.55), (19, 0.52), (21, 0.5), (23, 0.5), (25, 0.52), (27, 0.54),
     (29, 0.56), (31, 0.57), (33, 0.56), (35, 0.55), (37, 0.54), (39, 0.55)],
    [(0.5, 1.55), (0.8, 1.05), (1.5, 0.82), (3, 0.74), (5, 0.71), (7, 0.69), (9, 0.67), (11, 0.65),
     (13, 0.62), (15, 0.6), (17, 0.59), (19, 0.58), (21, 0.57), (23, 0.55), (25, 0.52), (27, 0.5),
     (29, 0.48), (31, 0.46), (33, 0.44), (35, 0.43), (37, 0.42), (40, 0.42)],
]

titles = ['Cold Season', 'Warm Season', 'Hot Season', 'Entire Dataset']
panels = [
    (cold_gauges, cold_avg_x, cold_avg_y, cold_mean_x, cold_mean_y),
    (warm_gauges, warm_avg_x, warm_avg_y, warm_mean_x, warm_mean_y),
    (hot_gauges, hot_avg_x, hot_avg_y, hot_mean_x, hot_mean_y),
    (all_gauges, all_avg_x, all_avg_y, all_mean_x, all_mean_y),
]

W, H = 1144, 1439
fig = plt.figure(figsize=(W / 100, H / 100), dpi=100)
corners = [(130, 20), (657, 20), (130, 708), (657, 708)]
aw, ah = 468, 611

GRAY = '#808080'
RED_LW, BLUE_LW = 4.2, 4.8
axes = []
for i, (px, py) in enumerate(corners):
    ax = fig.add_axes([px / W, 1 - (py + ah) / H, aw / W, ah / H])
    axes.append(ax)
    gauges, ax_x, ax_y, mx, my = panels[i]
    for g in gauges:
        ax.plot([p[0] for p in g], [p[1] for p in g], color=GRAY, lw=0.7, zorder=2)
    ax.plot(mx, my, color='#0000ff', lw=BLUE_LW, solid_capstyle='round', solid_joinstyle='round', zorder=3)
    ax.plot(ax_x, ax_y, color='#ff0000', lw=RED_LW, solid_capstyle='round', solid_joinstyle='round', zorder=4)

    ax.set_xlim(0, 40)
    ax.set_ylim(0, 2.5)
    ax.xaxis.set_major_locator(MultipleLocator(5))
    ax.xaxis.set_minor_locator(MultipleLocator(2.5))
    ax.yaxis.set_major_locator(MultipleLocator(0.5))
    ax.yaxis.set_minor_locator(MultipleLocator(0.25))
    ax.yaxis.set_major_formatter(FormatStrFormatter('%.1f'))
    ax.grid(True, which='major', color='#c8c8c8', lw=0.9, zorder=0)
    ax.tick_params(which='major', direction='out', length=6, width=1.1, labelsize=17, top=False, right=False)
    ax.tick_params(axis='x', which='major', pad=6)
    ax.tick_params(which='minor', direction='out', length=3.5, width=1.0, top=False, right=False)
    for s in ax.spines.values():
        s.set_linewidth(1.1)
    if i < 2:
        ax.tick_params(labelbottom=False)
    if i % 2 == 1:
        ax.tick_params(labelleft=False)
    ax.text(0.5, 0.915, titles[i], transform=ax.transAxes, ha='center', va='center', fontsize=22)

handles = [Line2D([], [], color=GRAY, lw=0.7),
           Line2D([], [], color='#ff0000', lw=RED_LW, solid_capstyle='round'),
           Line2D([], [], color='#0000ff', lw=BLUE_LW, solid_capstyle='round')]
axes[3].legend(handles, ['Single gauge', 'Gauge average', 'Sample mean'], loc='upper left',
               bbox_to_anchor=(0.367, 0.785), frameon=False, fontsize=19, handlelength=2.85,
               handletextpad=0.85, labelspacing=0.35, borderaxespad=0)

fig.text(0.026, 0.538, r'Random error standard deviation, $\mathrm{\sigma_e}$', rotation=90,
         ha='center', va='center', fontsize=32)
fig.text(0.546, 0.021, r'R$_{\mathrm{r}}$ (mm)', ha='center', va='center', fontsize=31)

fig.savefig('out.png', dpi=100)
